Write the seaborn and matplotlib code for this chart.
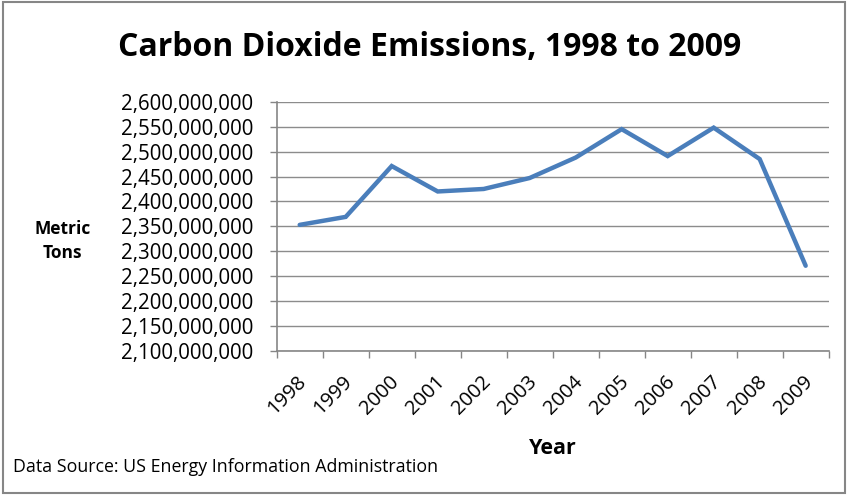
import numpy as np
import pandas as pd
import matplotlib
matplotlib.use('Agg')
import matplotlib.pyplot as plt
import matplotlib.transforms as mtransforms
from matplotlib.ticker import FuncFormatter, FixedLocator
from matplotlib.patches import Rectangle
import seaborn as sns

#%% data
years = ['1998', '1999', '2000', '2001', '2002', '2003',
         '2004', '2005', '2006', '2007', '2008', '2009']
emissions = [2353000000, 2369000000, 2471000000, 2420000000, 2425000000, 2447000000,
             2488000000, 2545000000, 2491000000, 2548000000, 2485000000, 2271000000]
y_ticks = list(range(2100000000, 2600000001, 50000000))

df = pd.DataFrame({'Year': years, 'Emissions': emissions})

#%% style
sns.set_style('white')
plt.rcParams['font.family'] = ['Open Sans', 'DejaVu Sans']
plt.rcParams['text.color'] = 'black'
plt.rcParams['xtick.labelcolor'] = 'black'
plt.rcParams['ytick.labelcolor'] = 'black'

fig = plt.figure(figsize=(8.48, 4.95), dpi=100)
ax = fig.add_axes([0.3263, 0.2909, 0.6509, 0.5036])

sns.lineplot(data=df, x='Year', y='Emissions', ax=ax, color='#4a7ebb',
             linewidth=3.2, solid_capstyle='round', solid_joinstyle='miter')

ax.set_xlim(-0.5, len(years) - 0.5)
ax.set_ylim(y_ticks[0], y_ticks[-1])
ax.yaxis.set_major_locator(FixedLocator(y_ticks))
ax.yaxis.set_major_formatter(FuncFormatter(lambda v, p: '{:,.0f}'.format(v)))
ax.grid(axis='y', color='#8c8c8c', linewidth=1.0)
ax.set_axisbelow(True)

# x tick marks sit between categories, labels at the centres
ax.set_xticks(range(len(years)))
ax.set_xticklabels(years, rotation=45, ha='right', va='center',
                   rotation_mode='anchor', fontsize=14.5)
ax.set_xticks(np.arange(-0.5, len(years)), minor=True)
ax.tick_params(axis='x', which='major', length=0, pad=20)
ax.tick_params(axis='x', which='minor', length=5, width=1, color='#868686',
               direction='out', bottom=True)
ax.tick_params(axis='y', length=5, width=1, color='#868686', direction='out',
               left=True, labelsize=14.8, pad=12)

# nudge the rotated year labels a little to the right
shift = mtransforms.ScaledTranslation(4 / 100, 0, fig.dpi_scale_trans)
for lab in ax.get_xticklabels():
    lab.set_transform(lab.get_transform() + shift)

for s in ['top', 'right']:
    ax.spines[s].set_visible(False)
for s in ['left', 'bottom']:
    ax.spines[s].set_color('#868686')
    ax.spines[s].set_linewidth(1.2)

ax.set_xlabel('')
ax.set_ylabel('')

fig.text(0.507, 0.905, 'Carbon Dioxide Emissions, 1998 to 2009', ha='center',
         va='center', fontsize=23, fontweight='bold')
fig.text(0.074, 0.513, 'Metric\nTons', ha='center', va='center', fontsize=12.5,
         fontweight='bold', linespacing=1.45)
fig.text(0.652, 0.093, 'Year', ha='center', va='center', fontsize=15.5,
         fontweight='bold')
fig.text(0.015, 0.057, 'Data Source: US Energy Information Administration',
         ha='left', va='center', fontsize=12.8)

fig.patches.append(Rectangle((0.004, 0.004), 0.992, 0.992, transform=fig.transFigure,
                             fill=False, edgecolor='#868686', linewidth=1.5))

fig.savefig('out.png', dpi=100)
